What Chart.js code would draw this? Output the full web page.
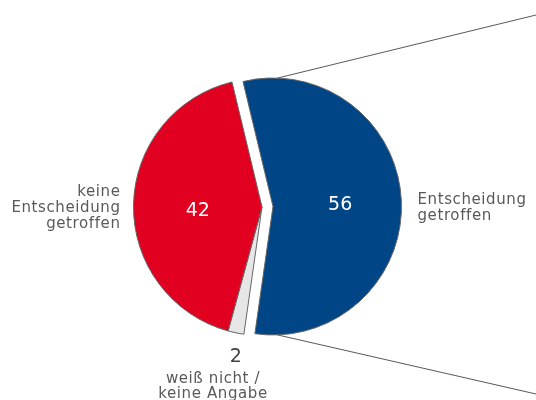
<!DOCTYPE html>
<html>
<head>
<meta charset="utf-8">
<script src="https://cdn.jsdelivr.net/npm/chart.js@4/dist/chart.umd.min.js"></script>
<style>
    html, body { margin: 0; padding: 0; background: #fff; }
    #box { width: 536px; height: 400px; }
</style>
</head>
<body>
<div id="box"><canvas id="pie"></canvas></div>
<script>
// data
var labels = [
    ["Entscheidung", "getroffen"],
    ["weiß nicht /", "keine Angabe"],
    ["keine", "Entscheidung", "getroffen"]
];
var values = [56, 2, 42];
var colors = ["#004687", "#E6E6E6", "#E1001F"];

var textColor = "#595959";
var fontName = "'DejaVu Sans', Verdana, sans-serif";

// pushes the blue slice out and draws the lines to the (hidden) second pie
var explodePlugin = {
    id: "explode",
    afterDatasetUpdate: function (chart, args) {
        var arc = chart.getDatasetMeta(0).data[0];
        var mid = (arc.startAngle + arc.endAngle) / 2;
        arc.x = arc.x + Math.cos(mid) * 11;
        arc.y = arc.y + Math.sin(mid) * 11;
    },
    beforeDatasetsDraw: function (chart) {
        var ctx = chart.ctx;
        var arc = chart.getDatasetMeta(0).data[0];
        var r = arc.outerRadius;
        var a1 = -88 * Math.PI / 180;
        var a2 = 88 * Math.PI / 180;
        ctx.save();
        ctx.strokeStyle = "#595959";
        ctx.lineWidth = 1;
        ctx.beginPath();
        ctx.moveTo(arc.x + Math.cos(a1) * r, arc.y + Math.sin(a1) * r);
        ctx.lineTo(chart.width, 15);
        ctx.moveTo(arc.x + Math.cos(a2) * r, arc.y + Math.sin(a2) * r);
        ctx.lineTo(chart.width, 394);
        ctx.stroke();
        ctx.restore();
    }
};

var labelPlugin = {
    id: "pieLabels",
    afterDatasetsDraw: function (chart) {
        var ctx = chart.ctx;
        var arcs = chart.getDatasetMeta(0).data;
        ctx.save();
        ctx.textBaseline = "middle";

        // numbers
        ctx.font = "19px " + fontName;
        ctx.textAlign = "center";
        var p0 = arcs[0].tooltipPosition();
        var p2 = arcs[2].tooltipPosition();
        ctx.fillStyle = "#ffffff";
        ctx.fillText(values[0], p0.x + 3, p0.y + 2);
        ctx.fillText(values[2], p2.x, p2.y + 5);

        var g = arcs[1];
        var gm = (g.startAngle + g.endAngle) / 2;
        var gr = g.outerRadius + 25;
        ctx.fillStyle = "#404040";
        ctx.fillText(values[1], g.x + Math.cos(gm) * gr + 5, g.y + Math.sin(gm) * gr);

        // category texts
        ctx.font = "15px " + fontName;
        ctx.letterSpacing = "0.6px";
        ctx.fillStyle = textColor;

        var b = arcs[0];
        ctx.textAlign = "left";
        labels[0].forEach(function (t, i) {
            ctx.fillText(t, b.x + b.outerRadius + 16, b.y - 6 + i * 16);
        });

        ctx.textAlign = "center";
        labels[1].forEach(function (t, i) {
            ctx.fillText(t, g.x - 49, g.y + 172 + i * 15);
        });

        var r = arcs[2];
        ctx.textAlign = "right";
        labels[2].forEach(function (t, i) {
            ctx.fillText(t, r.x - r.outerRadius - 13, r.y - 15 + i * 16);
        });

        ctx.restore();
    }
};

new Chart(document.getElementById("pie").getContext("2d"), {
    type: "pie",
    data: {
        labels: labels,
        datasets: [
            {
                data: values,
                backgroundColor: colors,
                borderColor: "#666666",
                borderWidth: 1
            }
        ]
    },
    options: {
        responsive: true,
        maintainAspectRatio: false,
        animation: false,
        rotation: -13.5,
        radius: 128.5,
        layout: {
            padding: { left: 0, right: 12, top: 14, bottom: 0 }
        },
        plugins: {
            legend: { display: false },
            tooltip: { enabled: false }
        }
    },
    plugins: [explodePlugin, labelPlugin]
});
</script>
</body>
</html>
